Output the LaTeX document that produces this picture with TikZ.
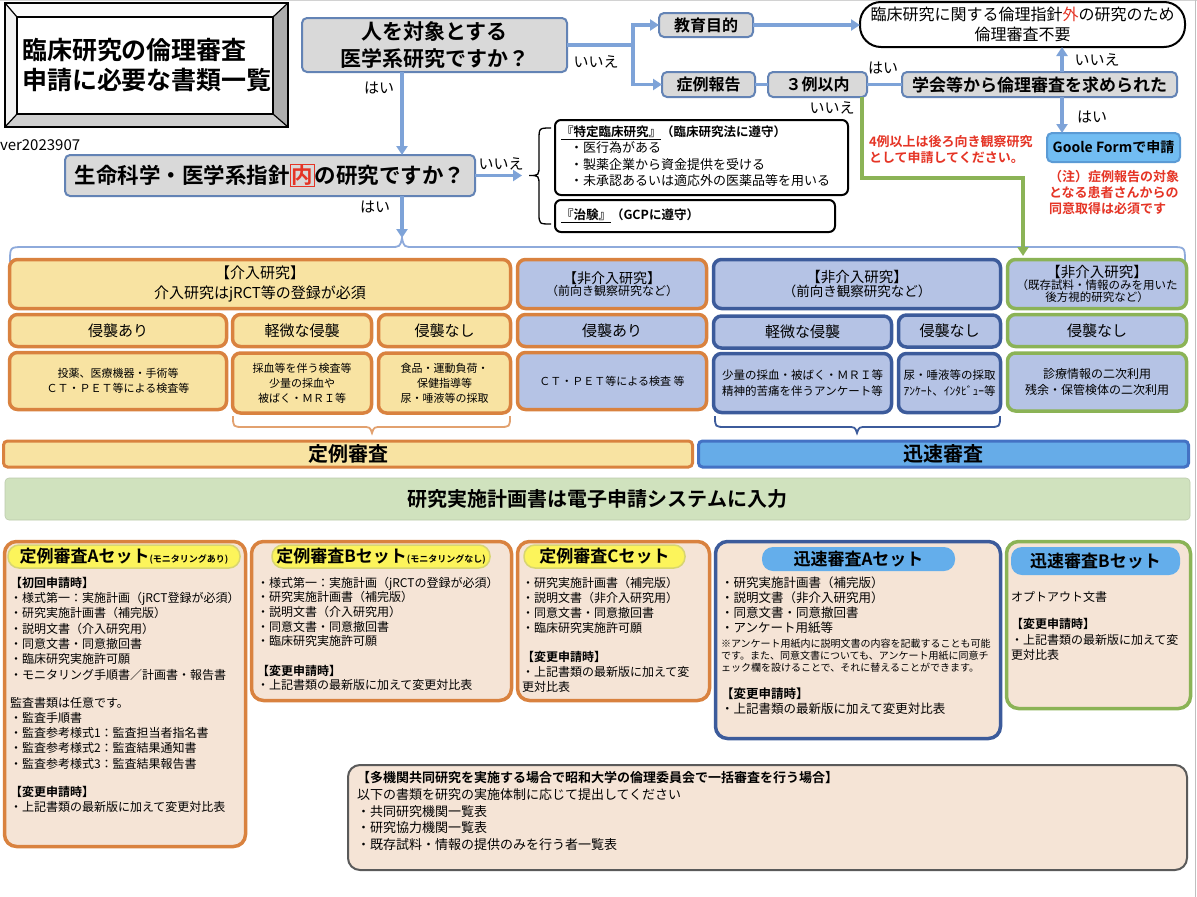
\documentclass[tikz,border=0pt]{standalone}
\usepackage{fontspec}
\setmainfont{Noto Sans CJK JP}[BoldFont={Noto Sans CJK JP Bold}]
\usetikzlibrary{arrows.meta}
\pgfdeclarelayer{bg}
\pgfsetlayers{bg,main}
\definecolor{qgray}{HTML}{D9D9D9}
\definecolor{qedge}{HTML}{6383B5}
\definecolor{conn}{HTML}{7EA3D8}
\definecolor{orng}{HTML}{D9823F}
\definecolor{ylw}{HTML}{F8E3A2}
\definecolor{lav}{HTML}{B5C3E5}
\definecolor{dblue}{HTML}{3C5B9B}
\definecolor{grn}{HTML}{8BB356}
\definecolor{peach}{HTML}{F5E4D6}
\definecolor{pillY}{HTML}{FCF45B}
\definecolor{pillYe}{HTML}{D8D570}
\definecolor{pillB}{HTML}{64AEEB}
\definecolor{fastF}{HTML}{66ACE8}
\definecolor{fastE}{HTML}{4472C4}
\definecolor{gbar}{HTML}{D0E2BE}
\definecolor{qred}{HTML}{E53425}
\definecolor{gooF}{HTML}{72BDF2}
\definecolor{gooE}{HTML}{5B9BD5}
\definecolor{brc}{HTML}{8EAADB}
\definecolor{mgray}{HTML}{5A5A5A}
\newcommand{\fsz}[2]{\fontsize{#1}{#2}\selectfont}
\setlength{\fboxsep}{0.6pt}
\setlength{\fboxrule}{1.2pt}
\begin{document}
\begin{tikzpicture}[x=1pt,y=-1pt,
  every node/.style={inner sep=0pt,outer sep=0pt},
  qbox/.style={draw=qedge,fill=qgray,line width=2pt,rounded corners=5pt,align=center},
  conline/.style={draw=conn,line width=3.5pt},
  arr/.style={-{Triangle[width=11pt,length=9pt]}},
  sarr/.style={-{Triangle[width=9pt,length=7pt]}},
  cat/.style={line width=3.5pt,rounded corners=8pt,align=center},
  oy/.style={cat,draw=orng,fill=ylw},
  ol/.style={cat,draw=orng,fill=lav},
  bl/.style={cat,draw=dblue,fill=lav},
  gl/.style={cat,draw=grn,fill=lav},
  setbox/.style={line width=3.5pt,rounded corners=12pt,fill=peach},
  pillA/.style={fill=pillY,draw=pillYe,line width=1.5pt,rounded corners=11pt,align=center},
  pillF/.style={fill=pillB,rounded corners=11pt,align=center},
  lst/.style={anchor=north west,align=left},
  lbl/.style={font=\fsz{15}{18}},
  redt/.style={text=qred,font=\bfseries\fsz{13}{16.5},align=left,anchor=north west}
]
\useasboundingbox (0,0) rectangle (1197,897);
\fill[white] (0,0) rectangle (1197,897);
\draw[gray!35,line width=1pt] (0,0.5) -- (1197,0.5);
\draw[gray!50,line width=1pt] (1195.5,0) -- (1195.5,897);

% ---------- title ----------
\fill[gray!4] (5,3) -- (288,3) -- (273,17) -- (17,17) -- cycle;
\fill[gray!10] (5,3) -- (17,17) -- (17,114) -- (5,127) -- cycle;
\fill[gray!65] (288,3) -- (288,127) -- (273,114) -- (273,17) -- cycle;
\fill[gray!38] (5,127) -- (288,127) -- (273,114) -- (17,114) -- cycle;
\draw[line width=1.5pt] (5,3) rectangle (288,127);
\draw[line width=1.2pt] (5,3) -- (17,17) (288,3) -- (273,17) (288,127) -- (273,114) (5,127) -- (17,114);
\node[draw,line width=1.5pt,fill=white,minimum width=256,minimum height=97] (title) at (145,65.5) {};
\node[anchor=west,align=left,font=\bfseries\fsz{25}{30}] (ttext) at (22,65.5) {臨床研究の倫理審査\\申請に必要な書類一覧};
\node[anchor=west,font=\fsz{15}{18}] (ver) at (0,145) {ver2023907};

% ---------- top questions ----------
\node[qbox,minimum width=265,minimum height=54,font=\bfseries\fsz{21}{27}] (q1) at (434.5,45) {人を対象とする\\医学系研究ですか？};
\node[qbox,minimum width=94,minimum height=24,font=\bfseries\fsz{16}{18}] (kyo) at (706,25) {教育目的};
\node[qbox,minimum width=93,minimum height=25,font=\bfseries\fsz{16}{18}] (sho) at (708.5,84.5) {症例報告};
\node[qbox,minimum width=99,minimum height=25,font=\bfseries\fsz{16}{18}] (c3) at (817.5,84.5) {３例以内};
\node[qbox,minimum width=275,minimum height=25,font=\bfseries\fsz{17}{19}] (gak) at (1039.5,84.5) {学会等から倫理審査を求められた};
\node[draw,line width=2pt,fill=white,rounded corners=21pt,minimum width=325,minimum height=45,align=center,font=\fsz{16}{20}] (ell) at (1022.5,24.5) {臨床研究に関する倫理指針\textcolor{qred}{外}の研究のため\\倫理審査不要};
\node[draw=gooE,fill=gooF,line width=2pt,rounded corners=5pt,minimum width=133,minimum height=29,font=\bfseries\fsz{14}{16}] (goo) at (1113.5,147.5) {Goole Formで申請};

\node[qbox,minimum width=410,minimum height=41,font=\bfseries\fsz{21.5}{24}] (q2) at (270,175.5) {生命科学・医学系指針\fcolorbox{qred}{qgray}{\textcolor{qred}{内}}の研究ですか？};
\node[draw,line width=2pt,fill=white,rounded corners=6pt,minimum width=293,minimum height=75] (tok) at (701.5,157.5) {};
\node[lst,font=\fsz{13}{16.5}] (tokt) at (561,125.5) {{\bfseries\fsz{12.5}{16.5}\underline{『特定臨床研究』}（臨床研究法に遵守）}\\
\hspace{9pt}・医行為がある\\
\hspace{9pt}・製薬企業から資金提供を受ける\\
\hspace{9pt}・未承認あるいは適応外の医薬品等を用いる};
\node[draw,line width=2pt,fill=white,rounded corners=6pt,minimum width=280,minimum height=32] (chi) at (695,216) {};
\node[anchor=west,font=\bfseries\fsz{12.5}{15}] (chit) at (561,216) {\underline{『治験』}（GCPに遵守）};

% labels
\node[lbl] (l1) at (596,62) {いいえ};
\node[lbl] (l2) at (379,88) {はい};
\node[lbl] (l3) at (501,164) {いいえ};
\node[lbl] (l4) at (375,207) {はい};
\node[lbl] (l5) at (883,68) {はい};
\node[lbl] (l6) at (832,108) {いいえ};
\node[lbl] (l7) at (1097,60) {いいえ};
\node[lbl] (l8) at (1092,117) {はい};

\node[redt] (red1) at (869,135) {4例以上は後ろ向き観察研究\\として申請してください。};
\node[redt,font=\bfseries\fsz{13}{16}] (red2) at (1049,170) {（注）症例報告の対象\\となる患者さんからの\\同意取得は必須です};

% connectors top
\coordinate (v1) at (402,0);
\coordinate (btip) at (522,175.5);
\coordinate (bap) at (402,238);
\coordinate (ux) at (1062,0);
\coordinate (gturn) at (1023,178);
\draw[conline,arr] (v1 |- q1.south) -- (v1 |- q2.north);
\draw[conline] (q1.east) -- ++(66,0) coordinate (split);
\draw[conline,arr] (split) |- (kyo.west);
\draw[conline,arr] (split) |- (sho.west);
\draw[conline,arr] (kyo.east) -- (kyo.east -| ell.west);
\draw[conline] (sho.east) -- (c3.west);
\draw[conline] (c3.east) -- (gak.west);
\draw[conline,arr] (ux |- gak.north) -- (ux |- ell.south);
\draw[conline,arr] (ux |- gak.south) -- (ux |- goo.north);
\draw[conline,arr] (q2.east) -- (btip);
\draw[conline,arr] (v1 |- q2.south) -- (bap);
% left brace
\draw[black,line width=1.3pt] (551,128) .. controls (539,128) .. (539,140) -- (539,165) .. controls (539,175.5) .. (529,175.5) .. controls (539,175.5) .. (539,186) -- (539,213) .. controls (539,224) .. (551,224);
% big brace
\draw[brc,line width=1.8pt] (10,262) .. controls (10,247) .. (24,247) -- (390,247) .. controls (400,247) .. (402,238) .. controls (404,247) .. (414,247) -- (1171,247) .. controls (1185,247) .. (1185,262);
% green path
\draw[grn,line width=3.5pt,arr] ([xshift=-5pt]c3.south east) |- (gturn) -- (gturn |- 0,256);

% ---------- category rows ----------
\node[oy,minimum width=501,minimum height=49,font=\fsz{15}{20}] (c1a) at (260,284) {【介入研究】\\介入研究はjRCT等の登録が必須};
\node[ol,minimum width=189,minimum height=49] (c1b) at (612,284) {{\fsz{14}{20}【非介入研究】}\\{\fsz{12}{16}（前向き観察研究など）}};
\node[bl,minimum width=287,minimum height=49] (c1c) at (857,284) {{\fsz{14.5}{20}【非介入研究】}\\{\fsz{13.5}{18}（前向き観察研究など）}};
\node[gl,minimum width=179,minimum height=49] (c1d) at (1097,284) {{\fsz{14.5}{17}【非介入研究】}\\{\fsz{11.5}{14}（既存試料・情報のみを用いた}\\{\fsz{11.5}{14}後方視的研究など）}};

\node[oy,minimum width=217,minimum height=32,font=\fsz{15}{18}] (r2a) at (118,330.5) {侵襲あり};
\node[oy,minimum width=139,minimum height=32,font=\fsz{15}{18}] (r2b) at (302,330.5) {軽微な侵襲};
\node[oy,minimum width=132,minimum height=32,font=\fsz{15}{18}] (r2c) at (444.5,330.5) {侵襲なし};
\node[ol,minimum width=189,minimum height=32,font=\fsz{15}{18}] (r2d) at (612,330.5) {侵襲あり};
\node[bl,minimum width=178,minimum height=32,font=\fsz{15}{18}] (r2e) at (802.5,332) {軽微な侵襲};
\node[bl,minimum width=102,minimum height=32,font=\fsz{15}{18}] (r2f) at (949.5,331) {侵襲なし};
\node[gl,minimum width=179,minimum height=32,font=\fsz{15}{18}] (r2g) at (1097,330.5) {侵襲なし};

\node[oy,minimum width=217,minimum height=57,font=\fsz{11}{15}] (r3a) at (118,381) {投薬、医療機器・手術等\\ＣＴ・ＰＥＴ等による検査等};
\node[oy,minimum width=139,minimum height=60,font=\fsz{11}{15}] (r3b) at (302,383) {採血等を伴う検査等\\少量の採血や\\被ばく・ＭＲＩ等};
\node[oy,minimum width=132,minimum height=60,font=\fsz{11}{15}] (r3c) at (444.5,383) {食品・運動負荷・\\保健指導等\\尿・唾液等の採取};
\node[ol,minimum width=189,minimum height=57,font=\fsz{11}{15}] (r3d) at (612,381) {ＣＴ・ＰＥＴ等による検査 等};
\node[bl,minimum width=178,minimum height=59,font=\fsz{11.5}{15.5}] (r3e) at (802.5,383) {少量の採血・被ばく・ＭＲＩ等\\精神的苦痛を伴うアンケート等};
\node[bl,minimum width=102,minimum height=59,font=\fsz{11.5}{15.5}] (r3f) at (949.5,383) {尿・唾液等の採取\\ｱﾝｹｰﾄ、ｲﾝﾀﾋﾞｭｰ等};
\node[gl,minimum width=179,minimum height=58,font=\fsz{12}{16}] (r3g) at (1097,382) {診療情報の二次利用\\残余・保管検体の二次利用};

% braces under rows
\coordinate (obr) at (372,432);
\coordinate (bbr) at (857,432);
\draw[orng!75,line width=1.8pt] (233,416) .. controls (233,427) .. (244,427) -- (362,427) .. controls (370,427) .. (372,433) .. controls (374,427) .. (382,427) -- (499,427) .. controls (510,427) .. (510,416);
\draw[dblue,line width=1.8pt] (715,416) .. controls (715,427) .. (726,427) -- (847,427) .. controls (855,427) .. (857,433) .. controls (859,427) .. (867,427) -- (989,427) .. controls (1000,427) .. (1000,416);

% ---------- bars ----------
\node[draw=orng,fill=ylw,line width=3pt,rounded corners=4pt,minimum width=689,minimum height=26,font=\bfseries\fsz{20}{22}] (teirei) at (348,454) {定例審査};
\node[draw=fastE,fill=fastF,line width=3pt,rounded corners=4pt,minimum width=490,minimum height=26,font=\bfseries\fsz{20}{22}] (jin) at (943.5,454) {迅速審査};
\node[fill=gbar,draw=gbar!90!black,line width=0.6pt,rounded corners=4pt,minimum width=1185,minimum height=42,font=\bfseries\fsz{20}{22}] (gbarn) at (597.5,499) {研究実施計画書は電子申請システムに入力};

% ---------- sets ----------
\node[setbox,draw=orng,minimum width=241,minimum height=305] (setA) at (125,694) {};
\node[setbox,draw=orng,minimum width=260,minimum height=159] (setB) at (381.5,621) {};
\node[setbox,draw=orng,minimum width=192,minimum height=159] (setC) at (613.5,621) {};
\node[setbox,draw=dblue,minimum width=285,minimum height=197] (setD) at (858,640) {};
\node[setbox,draw=grn,minimum width=184,minimum height=167] (setE) at (1098.5,625) {};

\node[pillA,minimum width=232,minimum height=23] (pA) at (124,556.5) {{\bfseries\fsz{17}{19}定例審査Aセット}{\bfseries\fsz{9}{10}(モニタリングあり)}};
\node[pillA,minimum width=218,minimum height=23] (pB) at (381,556.5) {{\bfseries\fsz{17}{19}定例審査Bセット}{\bfseries\fsz{9}{10}(モニタリングなし)}};
\node[pillA,minimum width=161,minimum height=23,font=\bfseries\fsz{17}{19}] (pC) at (604.5,556.5) {定例審査Cセット};
\node[pillF,minimum width=193,minimum height=24,font=\bfseries\fsz{17}{19}] (pD) at (858.5,559) {迅速審査Aセット};
\node[pillF,minimum width=169,minimum height=28,font=\bfseries\fsz{17}{19}] (pE) at (1095.5,561) {迅速審査Bセット};

\node[lst,font=\fsz{12}{15.3}] (tA) at (10,577) {{\bfseries【初回申請時】}\\
・様式第一：実施計画（jRCT登録が必須）\\
・研究実施計画書（補完版）\\
・説明文書（介入研究用）\\
・同意文書・同意撤回書\\
・臨床研究実施許可願\\
・モニタリング手順書／計画書・報告書\\[12.7pt]
監査書類は任意です。\\
・監査手順書\\
・監査参考様式1：監査担当者指名書\\
・監査参考様式2：監査結果通知書\\
・監査参考様式3：監査結果報告書\\[12.7pt]
{\bfseries【変更申請時】}\\
・上記書類の最新版に加えて変更対比表};

\node[lst,font=\fsz{12}{14.6}] (tB) at (257,577) {・様式第一：実施計画（jRCTの登録が必須）\\
・研究実施計画書（補完版）\\
・説明文書（介入研究用）\\
・同意文書・同意撤回書\\
・臨床研究実施許可願\\[15pt]
{\bfseries【変更申請時】}\\
・上記書類の最新版に加えて変更対比表};

\node[lst,font=\fsz{12}{15}] (tC) at (522,577) {・研究実施計画書（補完版）\\
・説明文書（非介入研究用）\\
・同意文書・同意撤回書\\
・臨床研究実施許可願\\[14pt]
{\bfseries【変更申請時】}\\
・上記書類の最新版に加えて変\\
更対比表};

\node[lst,font=\fsz{12.5}{15}] (tD) at (721,577) {・研究実施計画書（補完版）\\
・説明文書（非介入研究用）\\
・同意文書・同意撤回書\\
・アンケート用紙等\\
{\fsz{10}{12}※アンケート用紙内に説明文書の内容を記載することも可能}\\[-3pt]
{\fsz{10}{12}です。また、同意文書についても、アンケート用紙に同意チ}\\[-3pt]
{\fsz{10}{12}ェック欄を設けることで、それに替えることができます。}\\[12pt]
{\bfseries【変更申請時】}\\
・上記書類の最新版に加えて変更対比表};

\node[lst,font=\fsz{12}{15.5}] (tE) at (1011,591) {オプトアウト文書\\[12pt]
{\bfseries【変更申請時】}\\
・上記書類の最新版に加えて変\\
更対比表};

% multi-institution box
\node[draw=mgray,fill=peach,line width=2pt,rounded corners=12pt,minimum width=839,minimum height=105] (multi) at (767.5,817.5) {};
\node[lst,font=\fsz{13}{16.7}] (tM) at (357,771.5) {{\bfseries【多機関共同研究を実施する場合で昭和大学の倫理委員会で一括審査を行う場合】}\\
以下の書類を研究の実施体制に応じて提出してください\\
・共同研究機関一覧表\\
・研究協力機関一覧表\\
・既存試料・情報の提供のみを行う者一覧表};

% ---------- lower connectors (behind bars) ----------
\begin{pgfonlayer}{bg}
\draw[orng,line width=3pt,sarr] (r3a.south) -- (r3a.south |- setA.north);
\draw[orng,line width=3pt,sarr] (r3d.south) -- (r3d.south |- setC.north);
\draw[orng,line width=2.5pt,sarr] (obr) -- (obr |- teirei.north);
\draw[orng,line width=3pt,sarr] (obr |- teirei.south) -- (obr |- setB.north);
\draw[dblue,line width=2.5pt,sarr] (bbr) -- (bbr |- jin.north);
\draw[dblue,line width=2.5pt,sarr] (bbr |- jin.south) -- (bbr |- setD.north);
\draw[grn,line width=3pt,sarr] (r3g.south) -- (r3g.south |- setE.north);
\end{pgfonlayer}
\end{tikzpicture}
\end{document}
